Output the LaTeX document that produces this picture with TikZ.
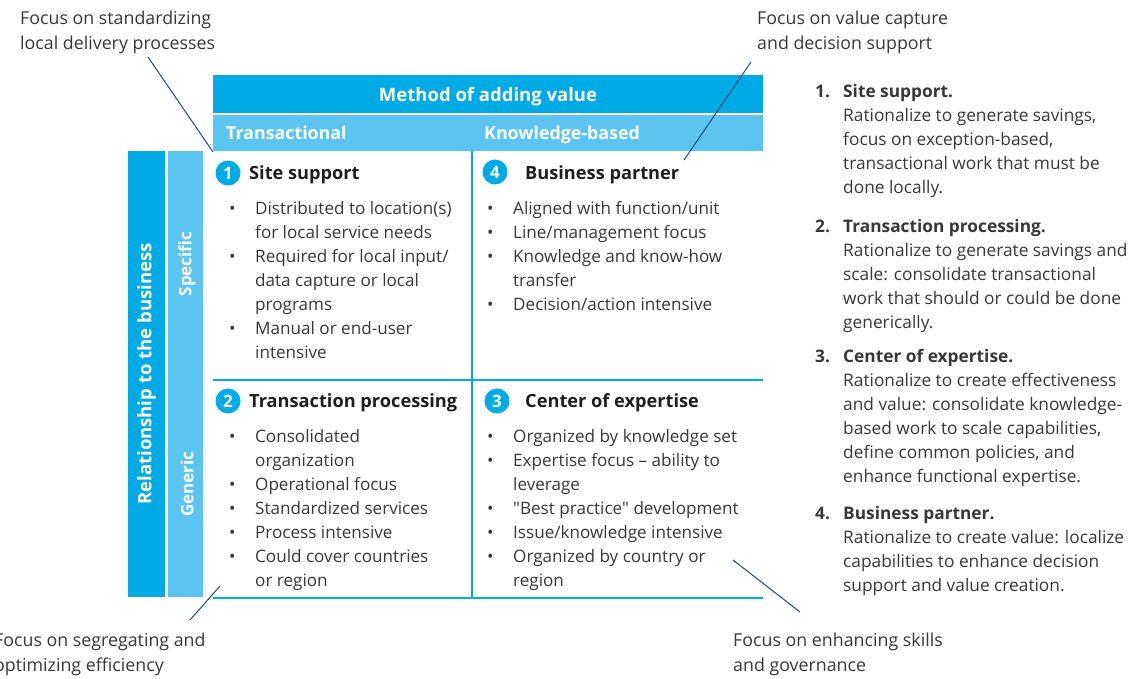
\documentclass[tikz,border=0pt]{standalone}
\usepackage{fontspec}
\setmainfont{Open Sans}
\usepackage{array}

\definecolor{boxblue}{RGB}{0,170,229}
\definecolor{lightblue}{RGB}{91,196,241}
\definecolor{pointerblue}{RGB}{30,72,138}
\definecolor{bodygrey}{RGB}{55,55,55}
\definecolor{titleblack}{RGB}{30,30,30}

\newcommand{\bodysize}{\fontsize{17.1}{24}\selectfont}
\newcommand{\bulletmark}{\hspace{3pt}\textbullet}

\tikzset{
  bar/.style={fill=#1, text=white, inner sep=0pt,
    font=\fontsize{18.5}{20}\selectfont\bfseries},
  bartext/.style={text=white, inner sep=0pt,
    font=\fontsize{17.8}{20}\selectfont\bfseries},
  quadline/.style={draw=boxblue, line width=2pt},
  num/.style={circle, fill=boxblue, text=white, minimum size=25pt,
    inner sep=0pt, font=\fontsize{17}{18}\selectfont\bfseries},
  qtitle/.style={anchor=base west, inner sep=0pt, text=titleblack,
    font=\fontsize{18.2}{20}\selectfont\bfseries},
  blist/.style={anchor=base west, inner sep=0pt, text=bodygrey, font=\bodysize},
  rlist/.style={anchor=base west, inner sep=0pt, text=bodygrey,
    font=\fontsize{17.3}{24}\selectfont},
  note/.style={anchor=base west, inner sep=0pt, text=bodygrey, align=left,
    font=\fontsize{17.8}{25}\selectfont},
  pointer/.style={draw=pointerblue, line width=1pt}
}

\begin{document}
\begin{tikzpicture}[x=1pt,y=-1pt]
\useasboundingbox (0,0) rectangle (1147,679);

\node[bar=boxblue, minimum width=550pt, minimum height=38pt] (method) at (488,94) {};
\node[bartext, anchor=base, font=\fontsize{18.5}{20}\selectfont\bfseries] (methodtext) at (488,102) {Method of adding value};
\node[bar=lightblue, minimum width=550pt, minimum height=36pt] (kind) at (488,133) {};
\node[bartext, anchor=base west] (trans) at (226,140) {Transactional};
\node[bartext, anchor=base west] (know) at (484,140) {Knowledge-based};
\node[bar=boxblue, rotate=90, minimum width=446pt, minimum height=37pt] (rel) at (146.5,374) {Relationship to the business};
\node[bar=lightblue, rotate=90, minimum width=446pt, minimum height=35pt] (scopebar) at (185.5,374) {};
\node[bartext, rotate=90, font=\fontsize{17}{20}\selectfont\bfseries] (spec) at (187,264) {Specific};
\node[bartext, rotate=90, font=\fontsize{17}{20}\selectfont\bfseries] (gen) at (187,484) {Generic};

\draw[quadline] (472,151) -- (472,598);
\draw[quadline] (213,380) -- (763,380);
\draw[quadline] (213,598) -- (763,598);

\node[num] (n1) at (228,173) {1};
\node[qtitle] (t1) at (249,179) {Site support};
\node[num] (n4) at (495,172) {4};
\node[qtitle] (t4) at (525,179) {Business partner};
\node[num] (n2) at (228,401) {2};
\node[qtitle] (t2) at (249,407) {Transaction processing};
\node[num] (n3) at (497,401) {3};
\node[qtitle] (t3) at (525,407) {Center of expertise};

\node[blist] (l1) at (226,214) {\begin{tabular}[t]{@{}p{29pt}@{}l@{}}
\bulletmark & Distributed to location(s)\\
 & for local service needs\\
\bulletmark & Required for local input/\\
 & data capture or local\\
 & programs\\
\bulletmark & Manual or end-user\\
 & intensive
\end{tabular}};
\node[blist] (l4) at (484,214) {\begin{tabular}[t]{@{}p{29pt}@{}l@{}}
\bulletmark & Aligned with function/unit\\
\bulletmark & Line/management focus\\
\bulletmark & Knowledge and know-how\\
 & transfer\\
\bulletmark & Decision/action intensive
\end{tabular}};
\node[blist] (l2) at (226,442) {\begin{tabular}[t]{@{}p{29pt}@{}l@{}}
\bulletmark & Consolidated\\
 & organization\\
\bulletmark & Operational focus\\
\bulletmark & Standardized services\\
\bulletmark & Process intensive\\
\bulletmark & Could cover countries\\
 & or region
\end{tabular}};
\node[blist] (l3) at (484,442) {\begin{tabular}[t]{@{}p{29pt}@{}l@{}}
\bulletmark & Organized by knowledge set\\
\bulletmark & Expertise focus -- ability to\\
 & leverage\\
\bulletmark & \textquotedbl Best practice\textquotedbl{} development\\
\bulletmark & Issue/knowledge intensive\\
\bulletmark & Organized by country or\\
 & region
\end{tabular}};

\node[rlist] (r1) at (815,98) {\begin{tabular}[t]{@{}p{28pt}@{}l@{}}
\textbf{1.} & \textbf{Site support.}\\
 & Rationalize to generate savings,\\
 & focus on exception-based,\\
 & transactional work that must be\\
 & done locally.
\end{tabular}};
\node[rlist] (r2) at (815,232) {\begin{tabular}[t]{@{}p{28pt}@{}l@{}}
\textbf{2.} & \textbf{Transaction processing.}\\
 & Rationalize to generate savings and\\
 & scale: consolidate transactional\\
 & work that should or could be done\\
 & generically.
\end{tabular}};
\node[rlist] (r3) at (815,362) {\begin{tabular}[t]{@{}p{28pt}@{}l@{}}
\textbf{3.} & \textbf{Center of expertise.}\\
 & Rationalize to create effectiveness\\
 & and value: consolidate knowledge-\\
 & based work to scale capabilities,\\
 & define common policies, and\\
 & enhance functional expertise.
\end{tabular}};
\node[rlist] (r4) at (815,519) {\begin{tabular}[t]{@{}p{28pt}@{}l@{}}
\textbf{4.} & \textbf{Business partner.}\\
 & Rationalize to create value: localize\\
 & capabilities to enhance decision\\
 & support and value creation.
\end{tabular}};

\node[note] (a1) at (20,50) {Focus on standardizing\\local delivery processes};
\node[note] (a4) at (757,50) {Focus on value capture\\and decision support};
\node[note] (a2) at (-6,671) {Focus on segregating and\\optimizing efficiency};
\node[note] (a3) at (733,671) {Focus on enhancing skills\\and governance};

\coordinate (p1a) at (148,57);
\coordinate (p1b) at (213,152);
\coordinate (p4a) at (751,62);
\coordinate (p4b) at (684,160);
\coordinate (p2a) at (190,620);
\coordinate (p2b) at (220,586);
\coordinate (p3a) at (733,560);
\coordinate (p3b) at (800,612);
\draw[pointer] (p1a) -- (p1b);
\draw[pointer] (p4a) -- (p4b);
\draw[pointer] (p2a) -- (p2b);
\draw[pointer] (p3a) -- (p3b);
\end{tikzpicture}
\end{document}
